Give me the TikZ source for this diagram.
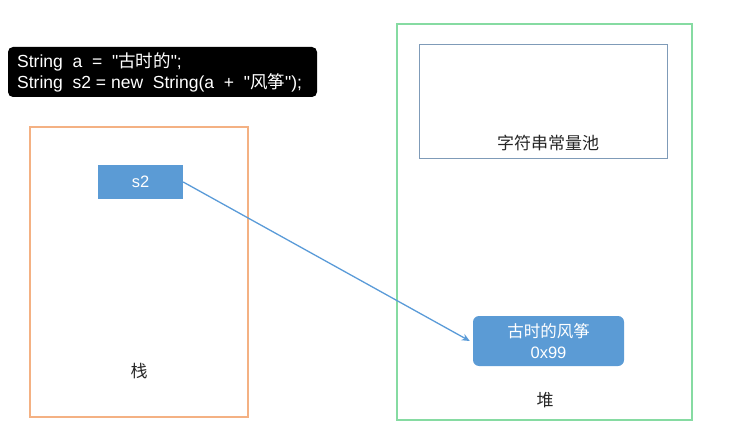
\documentclass[tikz,border=0pt]{standalone}
\usepackage{fontspec}
\setmainfont{Liberation Sans}[Ligatures=TeXOff]
\newfontfamily\cjk{Noto Sans CJK SC}
\usetikzlibrary{arrows.meta}
\definecolor{stackorange}{HTML}{F4B183}
\definecolor{heapgreen}{HTML}{86DBA2}
\definecolor{refblue}{HTML}{5B9BD5}
\definecolor{poolblue}{HTML}{7F9BB8}
\definecolor{linkblue}{HTML}{5A9BD8}
\tikzset{
  region/.style={draw, line width=1.2pt},
  valbox/.style={fill=refblue, text=white, font=\fontsize{16.5}{19}\selectfont, align=center, inner sep=0pt},
  caption/.style={font=\fontsize{17}{20}\selectfont\cjk, text=black!85},
}
\begin{document}
\begin{tikzpicture}[x=1pt, y=-1pt]
  \useasboundingbox (0,0) rectangle (744,438);
  % source snippet
  \node[fill=black, rounded corners=5pt, minimum width=309pt, minimum height=50pt, inner sep=0pt] (code) at (162.5,72) {};
  \node[anchor=west, text=white, font=\fontsize{17.5}{21}\selectfont, align=left, inner sep=0pt] (codetext) at (17,72)
    {String\ \ a\ \ =\ \ "{\cjk 古时的}";\\String\ \ s2 = new\ \ String(a\ \ +\ \ "{\cjk 风筝}");};
  % stack frame
  \draw[region, stackorange] (30,127) rectangle (248,417);
  \node[valbox, minimum width=85pt, minimum height=34pt] (s2) at (140.5,182) {s2};
  \node[caption] (stacklabel) at (139,371) {栈};
  % heap
  \draw[region, heapgreen] (397,24) rectangle (692,420);
  \node[draw=poolblue, line width=1pt, minimum width=248pt, minimum height=114pt] (pool) at (543,102) {};
  \node[caption] (poollabel) at (548,143) {字符串常量池};
  \node[valbox, rounded corners=6pt, minimum width=151pt, minimum height=50pt] (obj) at (548.5,341)
    {{\cjk 古时的风筝}\\[2pt]0x99};
  \node[caption] (heaplabel) at (545,400) {堆};
  % reference from s2 to the object
  \draw[linkblue, line width=1.3pt, -{Stealth[length=8pt, width=7pt]}] (s2.east) -- ([xshift=-3pt]obj.west);
\end{tikzpicture}
\end{document}
